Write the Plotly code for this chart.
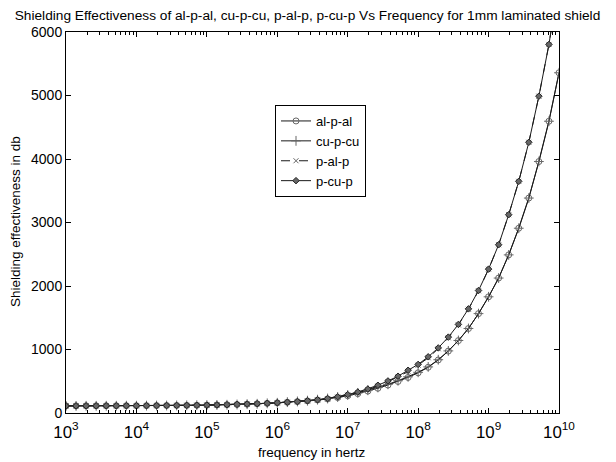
import numpy as np
import plotly.graph_objects as go

# frequency points: 50 points, log-spaced from 1e3 to 1e10 (7 per decade)
freq_exponents = [3 + 7 * i / 49 for i in range(50)]
freq = [10 ** e for e in freq_exponents]

al_p_al = [112, 112, 113, 113, 114, 114, 115, 115, 116, 117,
           118, 119, 120, 122, 124, 127, 130, 134, 139, 145,
           152, 160, 169, 179, 191, 205, 221, 243, 272, 305,
           345, 390, 440, 497, 560, 633, 720, 835, 975, 1140,
           1330, 1565, 1830, 2125, 2490, 2910, 3385, 3960, 4595, 5358]

cu_p_cu = [112, 112, 113, 113, 114, 114, 115, 115, 116, 117,
           118, 119, 120, 122, 124, 127, 130, 134, 139, 145,
           152, 161, 171, 182, 194, 210, 228, 252, 283, 317,
           358, 403, 452, 508, 570, 641, 726, 839, 978, 1142,
           1331, 1565, 1830, 2125, 2490, 2910, 3385, 3960, 4595, 5358]

p_al_p = [112, 112, 113, 113, 114, 114, 115, 115, 116, 117,
          118, 119, 120, 122, 124, 127, 130, 135, 140, 146,
          152, 160, 168, 178, 190, 205, 224, 250, 283, 321,
          367, 424, 490, 566, 655, 752, 870, 1012, 1185, 1388,
          1634, 1925, 2264, 2650, 3123, 3648, 4263, 4989, 5804, 6820]

p_cu_p = [112, 112, 113, 113, 114, 114, 115, 115, 116, 117,
          118, 119, 120, 122, 124, 127, 131, 136, 141, 147,
          153, 161, 170, 180, 192, 208, 228, 255, 290, 330,
          378, 437, 505, 579, 673, 765, 885, 1025, 1195, 1395,
          1640, 1929, 2266, 2650, 3123, 3648, 4263, 4989, 5804, 6820]

series_names = ["al-p-al", "cu-p-cu", "p-al-p", "p-cu-p"]
series_values = [al_p_al, cu_p_cu, p_al_p, p_cu_p]
series_symbols = ["circle-open", "cross-thin-open", "x-thin-open", "diamond"]
series_sizes = [6, 7, 5, 5]
series_dash = ["solid", "solid", "dash", "solid"]

y_ticks = [0, 1000, 2000, 3000, 4000, 5000, 6000]

FONT = "Liberation Sans, Arial, sans-serif"

W, H = 616, 462
plot_top, plot_bottom, plot_left, plot_right = 32, 413, 66, 559
ph = plot_bottom - plot_top
pw = plot_right - plot_left

fig = go.Figure()
for name, vals, sym, size, dash in zip(series_names, series_values, series_symbols,
                                       series_sizes, series_dash):
    fig.add_trace(go.Scatter(
        x=freq, y=vals, name=name, mode="lines+markers",
        line=dict(color="#1a1a1a", width=1, dash=dash),
        marker=dict(symbol=sym, size=size, color="#666666",
                    line=dict(color="#222222", width=1)),
    ))

fig.update_layout(
    width=W, height=H,
    margin=dict(l=plot_left, r=W - plot_right, t=plot_top, b=H - plot_bottom, autoexpand=False),
    paper_bgcolor="white", plot_bgcolor="white",
    font=dict(family=FONT, size=14, color="black"),
    title=dict(
        text="Shielding Effectiveness of al-p-al, cu-p-cu, p-al-p, p-cu-p Vs Frequency for 1mm laminated shield",
        x=307.5 / W, xref="container", y=1 - 15 / H, yref="container",
        xanchor="center", yanchor="middle",
        font=dict(family=FONT, size=13.7, color="black"),
    ),
    showlegend=True,
    legend=dict(
        x=(275 - plot_left) / pw, y=(plot_bottom - 105) / ph, xanchor="left", yanchor="top",
        bgcolor="white", bordercolor="black", borderwidth=1,
        font=dict(family=FONT, size=13, color="black"),
        tracegroupgap=0, itemwidth=30,
    ),
    annotations=[
        dict(text="frequency in hertz", x=(312 - plot_left) / pw, xref="paper",
             y=(plot_bottom - 452) / ph, yref="paper",
             showarrow=False, font=dict(family=FONT, size=13.5),
             xanchor="center", yanchor="middle"),
        dict(text="Shielding effectiveness in db", x=(15 - plot_left) / pw, xref="paper",
             y=(plot_bottom - 222) / ph, yref="paper", textangle=-90,
             showarrow=False, font=dict(family=FONT, size=13.5),
             xanchor="center", yanchor="middle"),
    ],
)

fig.update_xaxes(
    type="log", range=[3, 10], dtick=1, exponentformat="power", automargin=False,
    showgrid=False, zeroline=False,
    showline=True, linecolor="black", linewidth=1, mirror="ticks",
    ticks="inside", ticklen=5, tickcolor="black", ticklabelstandoff=4,
    tickfont=dict(family=FONT, size=13.5),
    minor=dict(ticks="inside", ticklen=3, tickcolor="black", dtick="D1", showgrid=False),
)
fig.update_yaxes(
    range=[0, 6000], tickvals=y_ticks, automargin=False,
    showgrid=False, zeroline=False,
    showline=True, linecolor="black", linewidth=1, mirror="ticks",
    ticks="inside", ticklen=5, tickcolor="black",
    tickfont=dict(family=FONT, size=14),
)

fig.write_html("out.html", config={"displayModeBar": False},
               post_script="document.body.style.margin='0';")
